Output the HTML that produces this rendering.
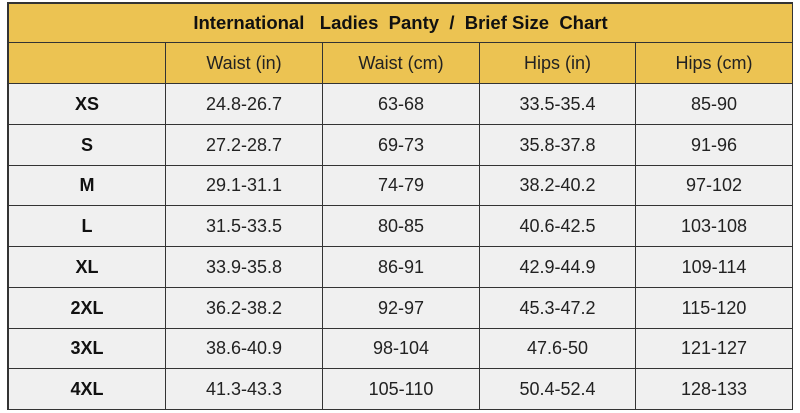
<!DOCTYPE html>
<html><head><style>
body{margin:0;width:800px;height:413px;background:#fff;position:relative;font-family:"Liberation Sans","DejaVu Sans",sans-serif;overflow:hidden}
.c{position:absolute;box-sizing:border-box;display:flex;align-items:center;justify-content:center;font-size:18px;color:#222;border-right:1.5px solid #333;border-bottom:1.5px solid #333}
.g{background:#ecc352}
.w{background:#f0f0f0}
.b{font-weight:bold;color:#111}
.lab{font-size:18px}
</style></head><body>
<div style="position:absolute;left:7px;top:2px;width:786px;height:408px;border:2px solid #333;box-sizing:border-box;border-right:none;border-bottom:none"></div>
<div class="c g b" style="left:9px;top:4px;width:784px;height:39px;font-size:18.5px">International&nbsp;&nbsp; Ladies&nbsp; Panty&nbsp; /&nbsp; Brief Size&nbsp; Chart</div>
<div id="t"></div>
<script>
var xs=[9,166,323,480,636,793];
var hdr=["","Waist (in)","Waist (cm)","Hips (in)","Hips (cm)"];
var rows=[["XS","24.8-26.7","63-68","33.5-35.4","85-90"],["S","27.2-28.7","69-73","35.8-37.8","91-96"],["M","29.1-31.1","74-79","38.2-40.2","97-102"],["L","31.5-33.5","80-85","40.6-42.5","103-108"],["XL","33.9-35.8","86-91","42.9-44.9","109-114"],["2XL","36.2-38.2","92-97","45.3-47.2","115-120"],["3XL","38.6-40.9","98-104","47.6-50","121-127"],["4XL","41.3-43.3","105-110","50.4-52.4","128-133"]];
var h="";
function row(cells,y0,y1,cls){for(var i=0;i<5;i++){h+='<div class="c '+cls+(i==0&&cls=="w"?" b lab":"")+'" style="left:'+xs[i]+'px;top:'+y0+'px;width:'+(xs[i+1]-xs[i])+'px;height:'+(y1-y0)+'px">'+cells[i]+'</div>';}}
row(hdr,43,84,"g");
for(var r=0;r<8;r++){row(rows[r],Math.round(84+r*40.75),Math.round(84+(r+1)*40.75),"w");}
document.getElementById("t").innerHTML=h;
</script>
</body></html>
